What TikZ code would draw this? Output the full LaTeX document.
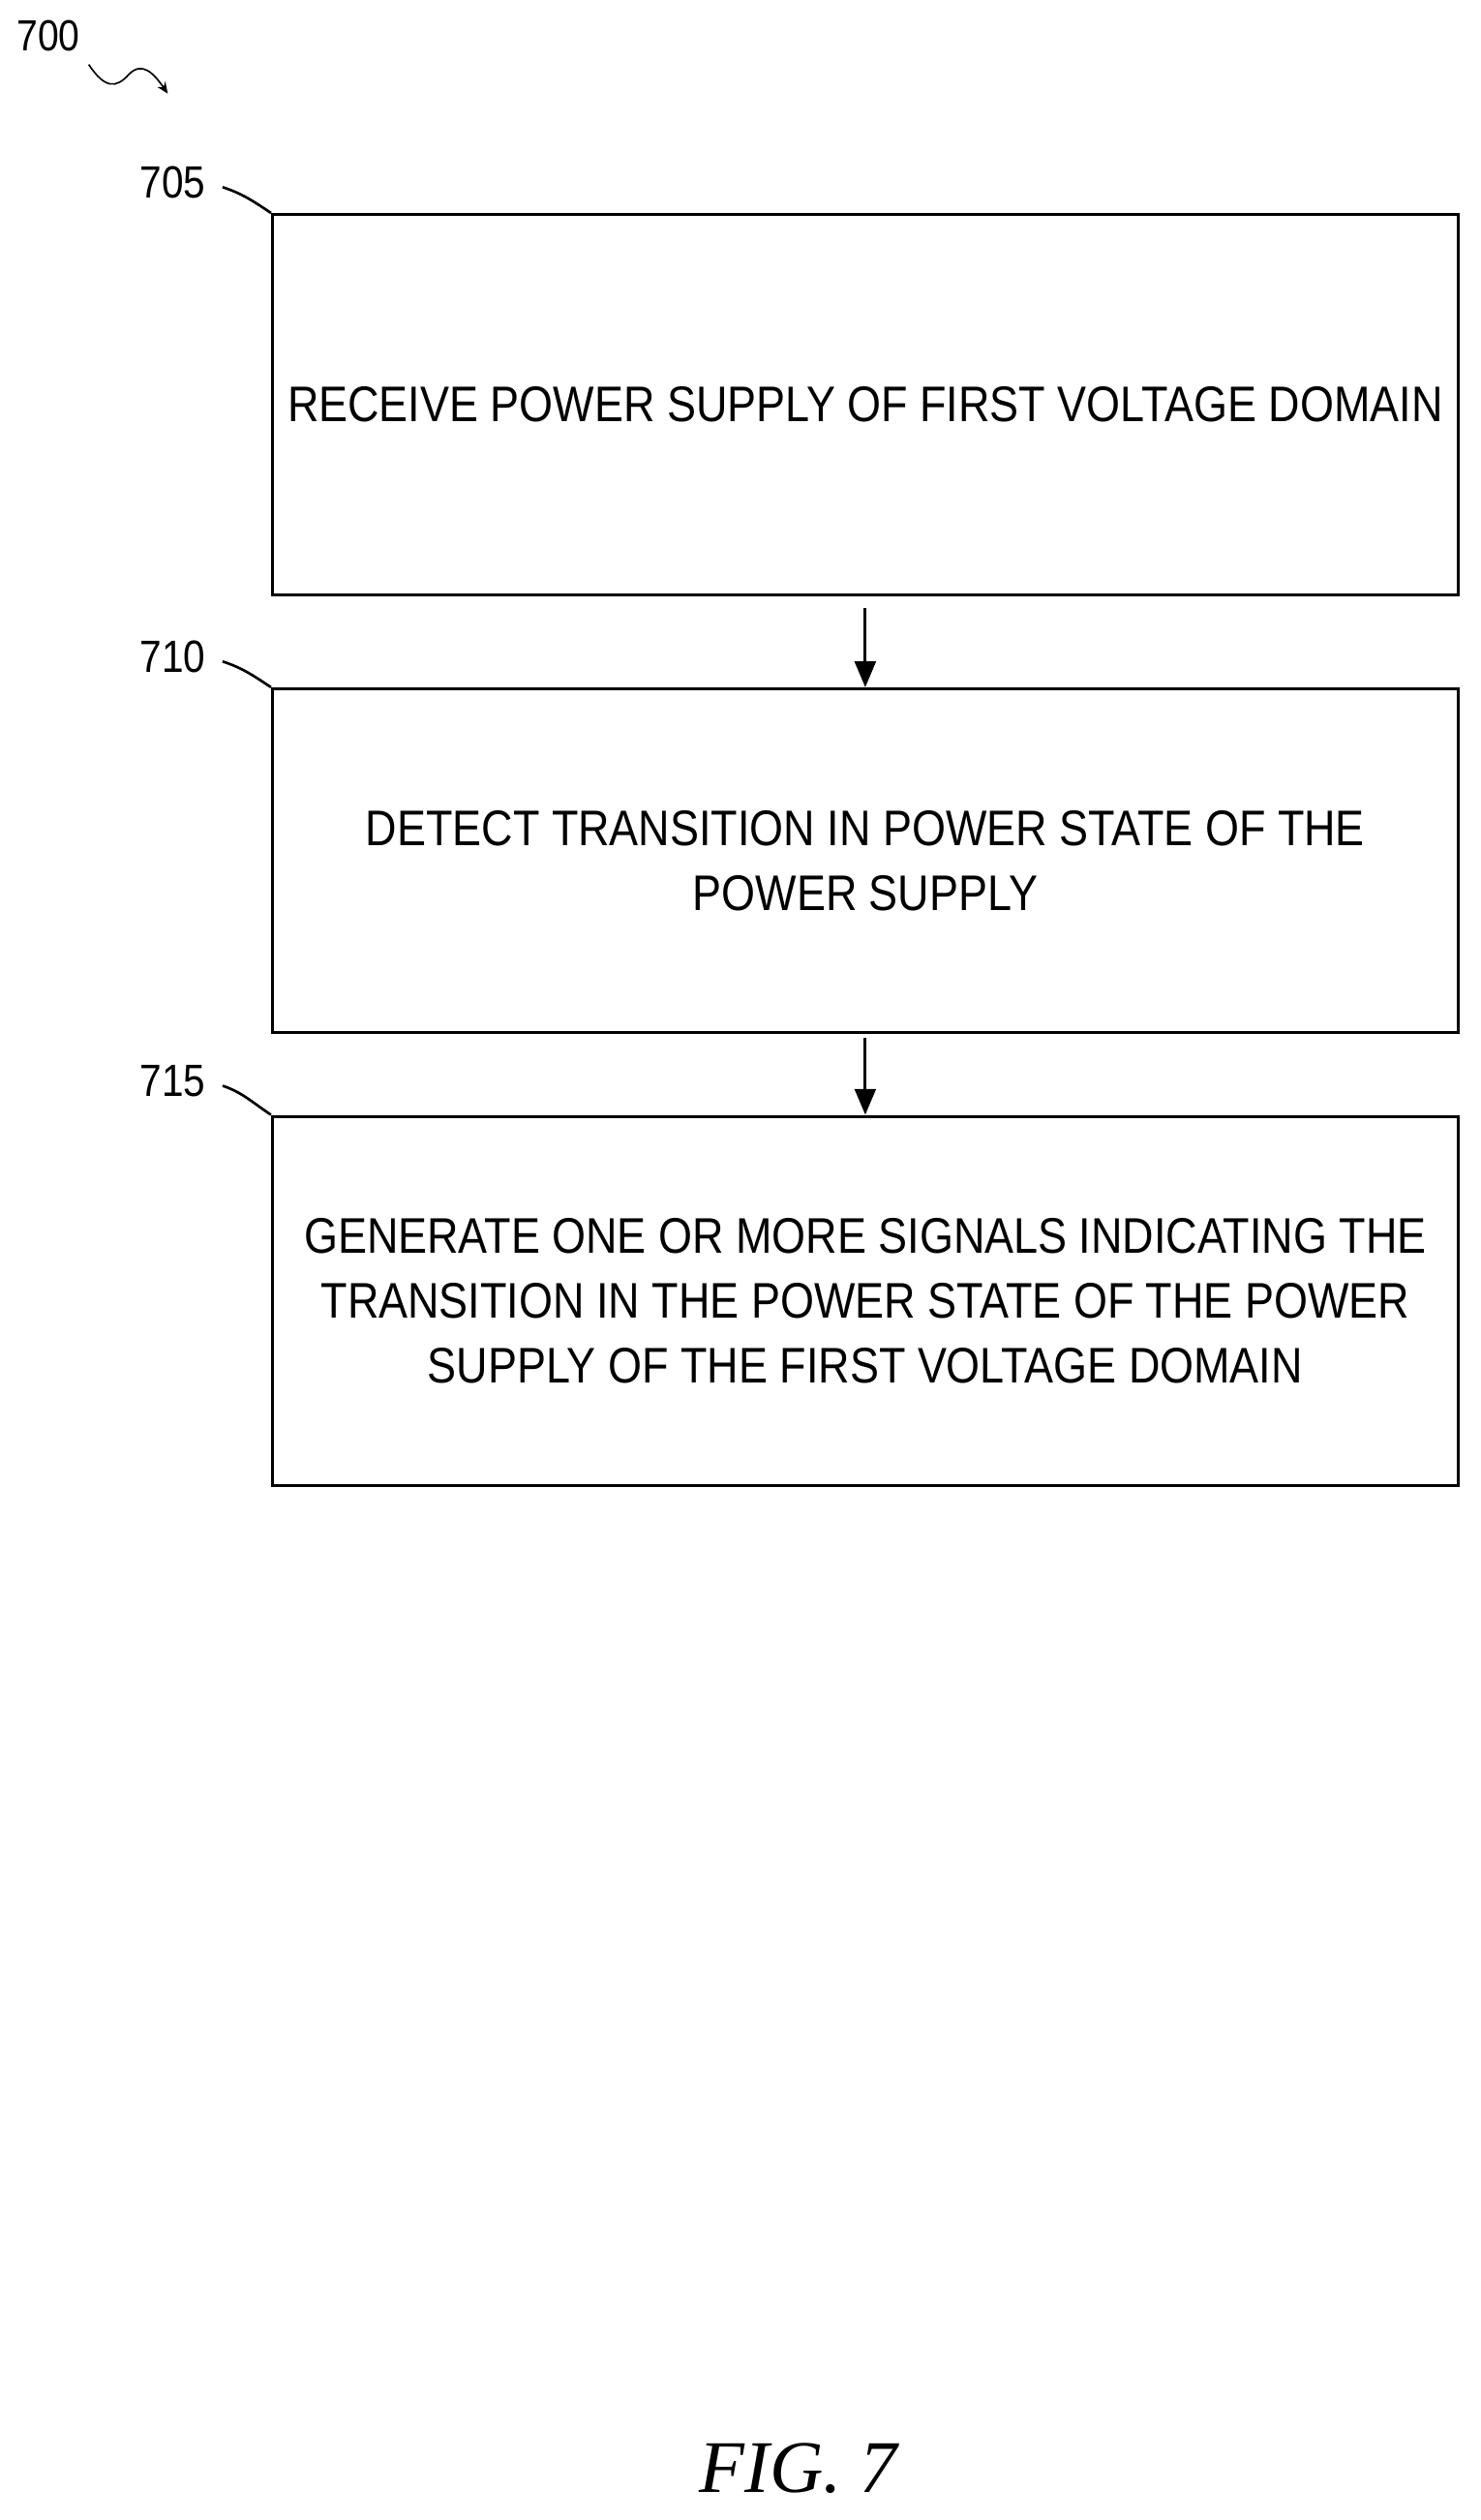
\documentclass[tikz,border=0pt]{standalone}
\usepackage{fontspec}
\setmainfont{Liberation Sans}[FakeStretch=0.87]
\newfontfamily\figfont{Liberation Serif}
\usetikzlibrary{arrows.meta}
\begin{document}
\begin{tikzpicture}[x=1pt,y=-1pt,
  box/.style={draw,line width=1.8pt,minimum width=735pt,align=center,font=\fontsize{31}{40}\selectfont,inner sep=0pt},
  lbl/.style={font=\fontsize{28}{30}\selectfont},
  arr/.style={line width=1.8pt,-{Triangle[length=16pt,width=13pt]}},
  lead/.style={line width=1.6pt}]
\useasboundingbox (0,0) rectangle (918,1562);
\node[box,minimum height=236pt,anchor=north west] (b1) at (168,132) {RECEIVE POWER SUPPLY OF FIRST VOLTAGE DOMAIN};
\node[box,minimum height=213pt,anchor=north west] (b2) at (168,426) {DETECT TRANSITION IN POWER STATE OF THE\\POWER SUPPLY};
\node[box,minimum height=229pt,anchor=north west] (b3) at (168,691) {GENERATE ONE OR MORE SIGNALS INDICATING THE\\TRANSITION IN THE POWER STATE OF THE POWER\\SUPPLY OF THE FIRST VOLTAGE DOMAIN};
\coordinate (a1s) at (b2.north |- 0,377);
\coordinate (a2s) at (b3.north |- 0,643);
\draw[arr] (a1s) -- (b2.north);
\draw[arr] (a2s) -- (b3.north);
\node[lbl] (l705) at (107,113) {705};
\node[lbl] (l710) at (107,407) {710};
\node[lbl] (l715) at (107,670) {715};
\draw[lead] (138,116) .. controls (150,120) and (156,124) .. (b1.north west);
\draw[lead] (138,410) .. controls (150,414) and (156,418) .. (b2.north west);
\draw[lead] (138,673) .. controls (150,677) and (156,683) .. (b3.north west);
\node[font=\fontsize{27}{28}\selectfont] (l700) at (30,22) {700};
\coordinate (w1) at (55,40);
\coordinate (w2) at (104,58);
\draw[line width=1pt,-{Stealth[length=7pt,width=6pt]}] (w1) .. controls (65,55) and (72,55) .. (80,46) .. controls (88,38) and (95,45) .. (w2);
\node[font=\figfont\itshape\fontsize{46}{50}\selectfont] (fig) at (495,1530) {FIG. 7};
\end{tikzpicture}
\end{document}
